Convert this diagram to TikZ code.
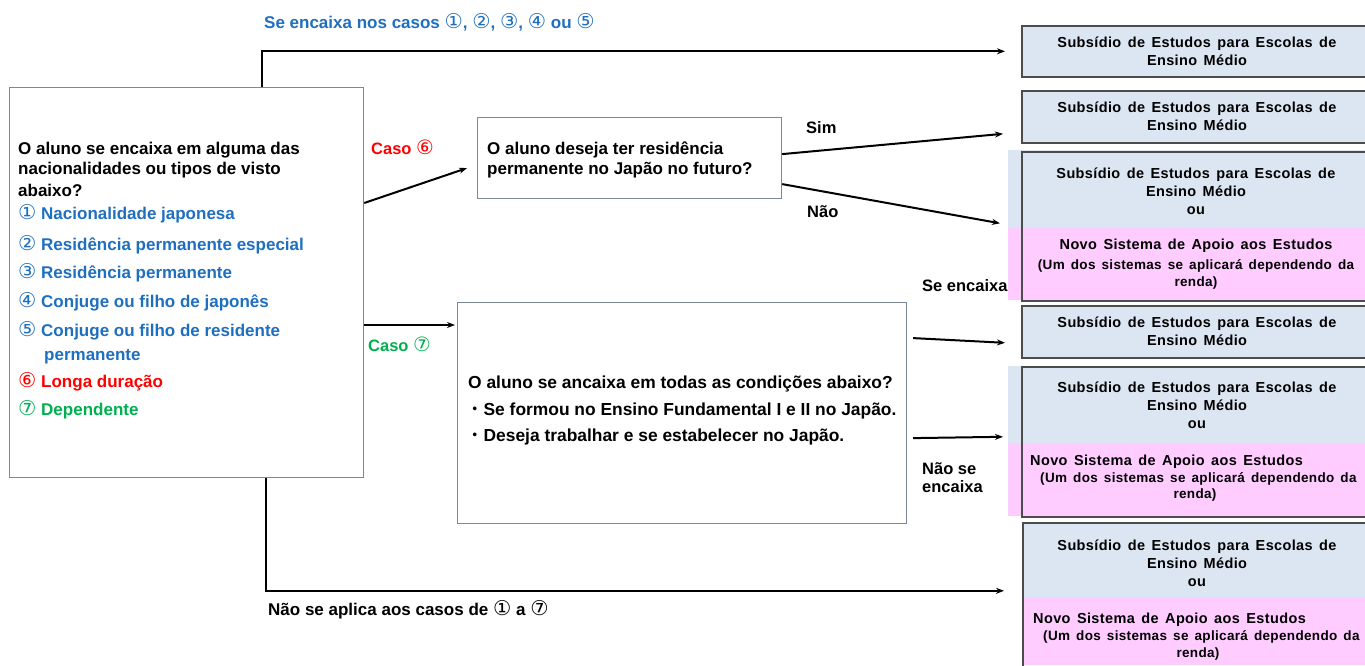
\documentclass[tikz,border=0pt]{standalone}
\usepackage{fontspec}
\setmainfont{Liberation Sans}
\newfontfamily\dv{DejaVu Sans}
\newfontfamily\cjk{Noto Sans CJK JP}
\newfontfamily\wsans[LetterSpace=2.5]{Liberation Sans}
\usetikzlibrary{arrows.meta}
\definecolor{cblue}{HTML}{1F6FC0}
\definecolor{cred}{HTML}{FF0000}
\definecolor{cgreen}{HTML}{00B050}
\definecolor{fblue}{HTML}{DCE6F2}
\definecolor{fpink}{HTML}{FFCCFF}
\definecolor{bgray}{HTML}{7A8899}
\newcommand{\cn}[1]{{\dv\mdseries\scalebox{1.2}{#1}}}
\newcommand{\wsp}{\spaceskip=0.45em plus 0.1em\relax}
\tikzset{
  arr/.style={line width=2pt, -{Stealth[length=8pt,width=6pt]}},
  qbox/.style={draw=bgray, line width=1.2pt, anchor=north west, inner sep=0pt},
  rbox/.style={draw=black!70, line width=1.6pt, anchor=north west, inner sep=0pt, minimum width=346pt},
  lt/.style={font=\bfseries\fontsize{17}{19}\selectfont, anchor=west, inner sep=0pt},
  lab/.style={lt, font=\bfseries\fontsize{16.5}{18}\selectfont},
  rt/.style={font=\wsans\bfseries\fontsize{14.5}{16}\selectfont\wsp, inner sep=0pt},
  st/.style={font=\wsans\bfseries\fontsize{13.5}{15}\selectfont\wsp, inner sep=0pt},
}
\begin{document}
\begin{tikzpicture}[x=1pt,y=-1pt]
\useasboundingbox (0,0) rectangle (1365,665);
\clip (0,0) rectangle (1365,665);

% labels behind boxes
\node[lab] (lse) at (922,286) {Se encaixa};
\node[lab, align=left, anchor=north west] (lnse) at (922,462) {Não se\\encaixa};

% fills of combined boxes
\fill[fblue] (1008,150) rectangle (1365,228);
\fill[fpink] (1008,228) rectangle (1365,300);
\fill[fblue] (1008,366) rectangle (1365,443);
\fill[fpink] (1008,443) rectangle (1365,516);
\fill[fblue] (1022,522) rectangle (1365,598);
\fill[fpink] (1022,598) rectangle (1365,665);

% left box
\node[qbox, minimum width=354pt, minimum height=390pt] (L) at (9,87) {};
\node[lt] (q1) at (18,150) {O aluno se encaixa em alguma das};
\node[lt] (q2) at (18,170) {nacionalidades ou tipos de visto};
\node[lt] (q3) at (18,190) {abaixo?};
\node[lt, text=cblue] (i1) at (18,214) {\cn{①} Nacionalidade japonesa};
\node[lt, text=cblue] (i2) at (18,245) {\cn{②} Residência permanente especial};
\node[lt, text=cblue] (i3) at (18,273) {\cn{③} Residência permanente};
\node[lt, text=cblue] (i4) at (18,302) {\cn{④} Conjuge ou filho de japonês};
\node[lt, text=cblue] (i5) at (18,331) {\cn{⑤} Conjuge ou filho de residente};
\node[lt, text=cblue] (i5b) at (44,357) {permanente};
\node[lt, text=cred] (i6) at (18,382) {\cn{⑥} Longa duração};
\node[lt, text=cgreen] (i7) at (18,410) {\cn{⑦} Dependente};

% middle boxes
\node[qbox, minimum width=304pt, minimum height=81pt] (M1) at (477,117) {};
\node[lt] (m1a) at (487,150) {O aluno deseja ter residência};
\node[lt] (m1b) at (487,170) {permanente no Japão no futuro?};

\node[qbox, minimum width=449pt, minimum height=221pt] (M2) at (457,302) {};
\node[lt, font=\bfseries\fontsize{17.4}{19}\selectfont] (m2a) at (468,384) {O aluno se ancaixa em todas as condições abaixo?};
\node[lt, font=\bfseries\fontsize{17.4}{19}\selectfont] (m2b) at (466,411) {{\cjk\mdseries ・}Se formou no Ensino Fundamental I e II no Japão.};
\node[lt, font=\bfseries\fontsize{17.4}{19}\selectfont] (m2c) at (466,437) {{\cjk\mdseries ・}Deseja trabalhar e se estabelecer no Japão.};

% right boxes
\node[rbox, fill=fblue, minimum height=51pt] (B1) at (1021,25) {};
\node[rt, align=center] (b1t) at (1197,51) {Subsídio de Estudos para Escolas de\\[2pt]Ensino Médio};
\node[rbox, fill=fblue, minimum height=52pt] (B2) at (1021,90) {};
\node[rt, align=center] (b2t) at (1197,116) {Subsídio de Estudos para Escolas de\\[2pt]Ensino Médio};
\node[rbox, minimum height=149pt] (B3) at (1021,151) {};
\node[rt, align=center] (b3t) at (1196,191) {Subsídio de Estudos para Escolas de\\[2pt]Ensino Médio\\[2pt]ou};
\node[rt] (b3p) at (1196,246) {Novo Sistema de Apoio aos Estudos};
\node[st, align=center] (b3q) at (1196,274) {(Um dos sistemas se aplicará dependendo da\\[2pt]renda)};
\node[rbox, fill=fblue, minimum height=52pt] (B4) at (1021,305) {};
\node[rt, align=center] (b4t) at (1197,331) {Subsídio de Estudos para Escolas de\\[2pt]Ensino Médio};
\node[rbox, minimum height=150pt] (B5) at (1021,366) {};
\node[rt, align=center] (b5t) at (1197,405) {Subsídio de Estudos para Escolas de\\[2pt]Ensino Médio\\[2pt]ou};
\node[rt, anchor=west] (b5p) at (1030,462) {Novo Sistema de Apoio aos Estudos};
\node[st, anchor=west] (b5q) at (1040,479) {(Um dos sistemas se aplicará dependendo da};
\node[st] (b5r) at (1195,495) {renda)};
\node[rbox, minimum height=146pt] (B6) at (1022,522) {};
\node[rt, align=center] (b6t) at (1197,563) {Subsídio de Estudos para Escolas de\\[2pt]Ensino Médio\\[2pt]ou};
\node[rt, anchor=west] (b6p) at (1033,620) {Novo Sistema de Apoio aos Estudos};
\node[st, anchor=west] (b6q) at (1043,637) {(Um dos sistemas se aplicará dependendo da};
\node[st] (b6r) at (1198,654) {renda)};

% labels
\node[lab, text=cblue, font=\bfseries\fontsize{17}{19}\selectfont] (top) at (264,22) {Se encaixa nos casos \cn{①}, \cn{②}, \cn{③}, \cn{④} ou \cn{⑤}};
\node[lab, text=cred] (c6) at (371,147) {Caso \cn{⑥}};
\node[lab, text=cgreen] (c7) at (368,344) {Caso \cn{⑦}};
\node[lab] (sim) at (806,128) {Sim};
\node[lab] (nao) at (807,212) {Não};
\node[lab, font=\bfseries\fontsize{17}{19}\selectfont] (bot) at (268,610) {Não se aplica aos casos de \cn{①} a \cn{⑦}};

% connectors
\draw[arr, shorten >=16pt] ([xshift=253pt]L.north west) |- (B1.west);
\draw[arr] ([yshift=-116pt]L.north east) -- ([xshift=-10pt,yshift=-10pt]M1.west);
\draw[arr, shorten >=2pt] ([yshift=-238pt]L.north east) -- ([yshift=-23pt]M2.north west);
\draw[arr] ([yshift=4pt]M1.east) -- ([xshift=-18pt,yshift=-17pt]B2.west);
\draw[arr] ([yshift=-26pt]M1.east) -- ([xshift=-21pt,yshift=3pt]B3.west);
\draw[arr] ([xshift=6pt,yshift=75pt]M2.east) -- ([xshift=-16pt,yshift=-11pt]B4.west);
\draw[arr] ([xshift=6pt,yshift=-25pt]M2.east) -- ([xshift=-18pt,yshift=5pt]B5.west);
\draw[arr] ([xshift=257pt]L.south west) |- ([xshift=-18pt,yshift=5pt]B6.west);
\end{tikzpicture}
\end{document}
